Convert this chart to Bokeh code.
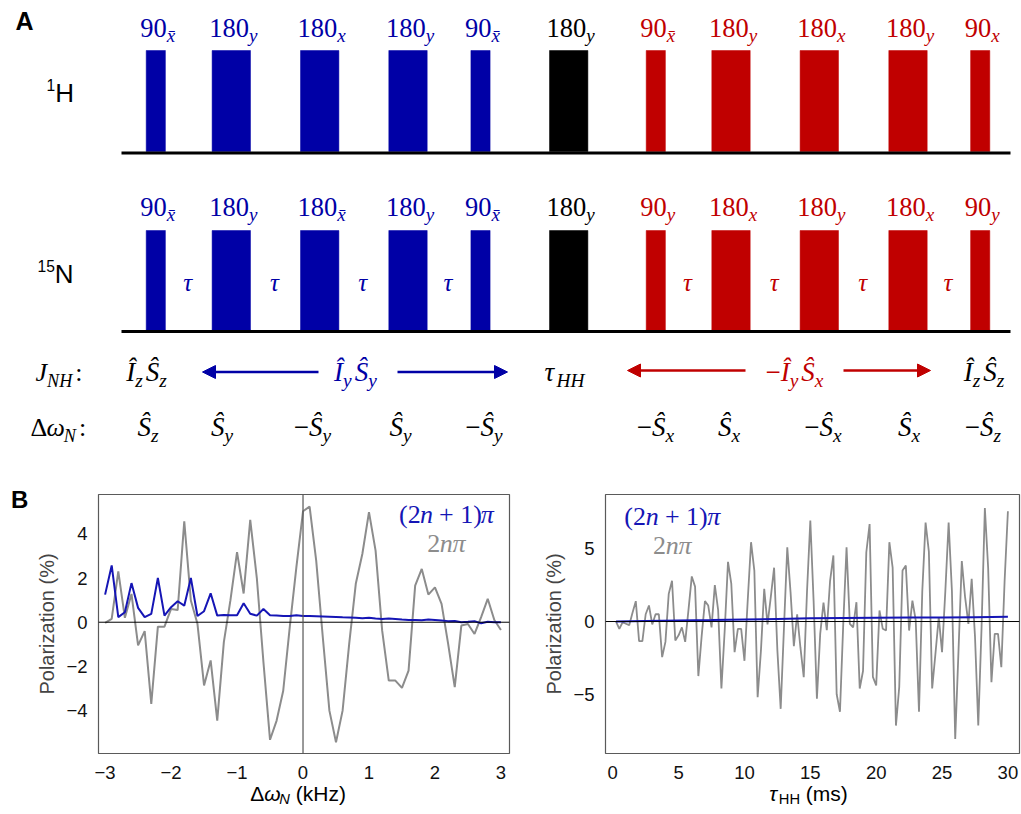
from bokeh.plotting import figure
from bokeh.models import ColumnDataSource, Range1d, Label, Arrow, NormalHead, Span, FixedTicker, Div
from bokeh.layouts import column, row
from bokeh.embed import file_html
from bokeh.resources import INLINE

# ---------------- data: panel A (pulse sequence) ----------------
pulse_center = [155.3, 230.8, 319.2, 407.5, 480.0, 568.2, 655.3, 730.5, 818.8, 907.5, 979.7]
pulse_angle = [90, 180, 180, 180, 90, 180, 90, 180, 180, 180, 90]
pulse_block = ["b", "b", "b", "b", "b", "k", "r", "r", "r", "r", "r"]
h_phase = ["xbar", "y", "x", "y", "xbar", "y", "xbar", "y", "x", "y", "x"]
n_phase = ["xbar", "y", "xbar", "y", "xbar", "y", "y", "x", "y", "x", "y"]
tau_gaps = [(0, 1, "b"), (1, 2, "b"), (2, 3, "b"), (3, 4, "b"),
            (6, 7, "r"), (7, 8, "r"), (8, 9, "r"), (9, 10, "r")]
jnh_terms = ["IzSz", "IySy", "tauHH", "-IySx", "IzSz"]
jnh_block = ["k", "b", "k", "r", "k"]
dwn_terms = ["Sz", "Sy", "-Sy", "Sy", "-Sy", "-Sx", "Sx", "-Sx", "Sx", "-Sz"]

# ---------------- data: panel B ----------------
dw_khz = [round(-3.0 + 0.1 * i, 1) for i in range(61)]
pol_2n = [-0.03, 0.15, 2.3, 0.2, 1.28, -1.05, -0.4, -3.7, -0.2, -0.2,
          0.6, 0.55, 4.57, 0.98, -0.07, -2.86, -1.73, -4.45, -0.9, 1.0,
          3.17, 1.3, 4.63, 2.0, -1.8, -5.32, -4.45, -3.1, -0.2, 2.5,
          5.02, 5.23, 2.79, -0.68, -4.0, -5.43, -4.0, -0.98, 1.74, 3.1,
          4.98, 3.24, -0.38, -2.64, -2.64, -2.97, -2.19, 1.66, 2.41, 1.25,
          1.58, 0.83, -0.98, -2.94, -0.15, -0.08, -0.53, 0.23, 1.06, 0.1, -0.35]
pol_2n1 = [1.25, 2.57, 0.23, 0.45, 1.77, 0.65, 0.23, 0.38, 2.0, 0.3,
           0.68, 0.95, 0.75, 2.0, 0.28, 0.5, 1.31, 0.3, 0.33, 0.32,
           0.32, 0.86, 0.38, 0.3, 0.6, 0.32, 0.3, 0.28, 0.28, 0.32,
           0.28, 0.28, 0.27, 0.26, 0.25, 0.24, 0.22, 0.21, 0.2, 0.18,
           0.2, 0.17, 0.15, 0.17, 0.15, 0.12, 0.1, 0.1, 0.09, 0.12,
           0.1, 0.08, 0.05, 0.06, 0.0, 0.02, 0.05, -0.05, 0.02, 0.0, 0.0]

tau_ms = [0.25 * k for k in range(1, 121)]
tau_2n = [0.0, -0.5, -0.05, -0.15, -0.25, 0.6, 1.4, -1.35, -1.35, 0.5,
          1.1, -0.2, 0.5, 0.5, -2.45, -1.4, 1.9, 2.8, -1.3, -0.95,
          -0.4, -1.4, 0.8, 3.1, 2.4, -3.75, -1.0, 1.4, 1.1, -0.4,
          2.5, 0.8, -4.6, -0.6, 4.1, 2.6, -2.1, -0.5, -0.5, -2.7,
          1.5, 5.45, 3.5, -5.2, -2.0, 2.25, -0.2, 1.7, 3.7, -2.0,
          -6.0, -0.4, 5.1, 2.0, -1.7, 0.5, -1.8, -3.83, 2.1, 6.94,
          1.4, -5.3, -0.85, 1.3, -0.6, 2.8, 4.54, -5.0, -6.2, -0.16,
          5.1, -0.16, -0.4, 1.33, -4.6, -3.4, 4.76, 6.7, -3.8, -4.4,
          0.76, -0.5, -0.62, 5.45, 3.7, -7.15, -4.5, 3.5, 3.85, -0.62,
          1.44, 0.1, -6.2, 2.1, 6.8, 4.8, -4.6, -2.2, 0.3, -2.1,
          2.1, 6.8, 2.1, -8.07, -2.0, 4.15, 1.67, -0.16, 2.93, -1.0,
          -7.15, -0.4, 7.8, 3.7, -4.17, -0.85, -0.85, -3.14, 2.8, 7.58]
tau_blue_t = [0.25, 2.5, 5, 7.5, 10, 12.5, 15, 17.5, 20, 22.5, 25, 27.5, 30]
tau_2n1 = [0.0, 0.04, 0.07, 0.1, 0.14, 0.18, 0.22, 0.24, 0.26, 0.27, 0.28, 0.3, 0.32]

left_xticks = [-3, -2, -1, 0, 1, 2, 3]
left_yticks = [-4, -2, 0, 2, 4]
right_xticks = [0, 5, 10, 15, 20, 25, 30]
right_yticks = [-5, 0, 5]

# ---------------- styles ----------------
COL = {"b": "#0000A6", "r": "#C00000", "k": "#000000"}
LINE_BLUE = "#1515B5"
LINE_GRAY = "#8C8C8C"
SERIF = "Liberation Serif"
SANS = "Liberation Sans"
BASELINE_FIX = 0.3   # bokeh draws 'alphabetic' text slightly low; lift by this fraction of the size

EM = {
    SERIF: {"0": .5, "1": .5, "2": .5, "3": .5, "4": .5, "5": .5, "6": .5, "7": .5, "8": .5, "9": .5,
            "(": .333, ")": .333, "+": .564, " ": .25, "\u2212": .564, ":": .278, "\u0394": .612,
            "x": .444, "y": .444, "z": .389, "n": .5, "\u03c0": .5, "N": .667, "H": .722, "J": .444,
            "\u00ce": .333, "\u015c": .5, "\u03c4": .44, "\u03c9": .67, "\u0304": 0.0},
    SANS: {"\u0394": .668, "\u03c9": .72, "N": .722, "H": .722, " ": .278, "(": .333, ")": .333,
           "k": .5, "z": .5, "m": .833, "s": .5, "\u03c4": .46, "1": .556, "5": .556,
           "A": .722, "B": .722},
}


def seg_w(t, size, font):
    return sum(EM[font].get(ch, 0.55) for ch in t) * size


def compose(segs, x, y, size, color, font, align="center", gap=0.0, sub_scale=0.7, sub_drop=0.22, sup_rise=0.42):
    """segs: (text, kind); kind r/i main, sr/si subscript, up superscript, b bold.
    gap is added after every subscript segment. y is the wanted baseline."""
    out = []
    sizes = [size * sub_scale if k in ("sr", "si", "up") else size for _, k in segs]
    widths = [seg_w(t, s, font) for (t, _), s in zip(segs, sizes)]
    gaps = [gap if k in ("sr", "si") and j < len(segs) - 1 else 0.0 for j, (_, k) in enumerate(segs)]
    total = sum(widths) + sum(gaps)
    x0 = {"left": x, "center": x - total / 2, "right": x - total}[align]
    for (t, k), s, w, g in zip(segs, sizes, widths, gaps):
        dy = sub_drop * size if k in ("sr", "si") else (-sup_rise * size if k == "up" else 0.0)
        style = "italic" if k in ("i", "si") else ("bold" if k == "b" else "normal")
        lead = len(t) - len(t.lstrip(" "))
        out.append((x0 + seg_w(" " * lead, s, font), y + dy - BASELINE_FIX * s, t.strip(" "),
                    "%.1fpx" % s, style, color, font))
        x0 += w + g
    return out


def phase_segs(ph):
    return [("x\u0304", "si")] if ph == "xbar" else [(ph, "si")]


def op_segs(term):
    if term == "tauHH":
        return [("\u03c4", "i"), ("HH", "si")]
    segs = []
    i = 0
    while i < len(term):
        ch = term[i]
        if ch == "-":
            segs.append(("\u2212", "r")); i += 1
        elif ch in "IS":
            segs.append(("\u00ce" if ch == "I" else "\u015c", "i"))
            segs.append((term[i + 1], "si")); i += 2
        else:
            i += 1
    return segs


def text_source(items):
    return ColumnDataSource(dict(x=[i[0] for i in items], y=[i[1] for i in items], text=[i[2] for i in items],
                                 size=[i[3] for i in items], style=[i[4] for i in items],
                                 color=[i[5] for i in items], font=[i[6] for i in items]))


def blank_fig(w, h, x0, y0):
    p = figure(width=w, height=h, x_range=Range1d(x0, x0 + w), y_range=Range1d(y0 + h, y0),
               output_backend="svg", toolbar_location=None, x_axis_type=None, y_axis_type=None,
               min_border=0, outline_line_color=None)
    p.grid.visible = False
    return p


def draw_text(p, items):
    p.text(x="x", y="y", text="text", text_font_size="size", text_font_style="style", text_color="color",
           text_font="font", text_baseline="alphabetic", text_align="left", source=text_source(items))


# ---------------- panel A ----------------
items = []
items += compose([("A", "b")], 15, 28, 25, "#000000", SANS, align="left")
items += compose([("1", "up"), ("H", "r")], 46, 100, 26, "#000000", SANS, align="left", sub_scale=0.6)
items += compose([("15", "up"), ("N", "r")], 37, 281, 26, "#000000", SANS, align="left", sub_scale=0.6)

H_TOP, H_BASE, H_LAB = 50, 152.5, 35
N_TOP, N_BASE, N_LAB = 230, 331, 214
WIDTH_PER_DEG = 0.2133

lefts, rights, tops, bottoms, colors = [], [], [], [], []
for c, a, blk in zip(pulse_center, pulse_angle, pulse_block):
    w = a * WIDTH_PER_DEG
    for top, base in ((H_TOP, H_BASE), (N_TOP, N_BASE)):
        lefts.append(c - w / 2); rights.append(c + w / 2)
        tops.append(top); bottoms.append(base - 1.5); colors.append(COL[blk])

for c, a, blk, hp, nph in zip(pulse_center, pulse_angle, pulse_block, h_phase, n_phase):
    items += compose([(str(a), "r")] + phase_segs(hp), c + 2, H_LAB, 26.5, COL[blk], SERIF, sub_scale=0.72)
    items += compose([(str(a), "r")] + phase_segs(nph), c + 2, N_LAB, 26.5, COL[blk], SERIF, sub_scale=0.72)

for i0, i1, blk in tau_gaps:
    e0 = pulse_center[i0] + pulse_angle[i0] * WIDTH_PER_DEG / 2
    e1 = pulse_center[i1] - pulse_angle[i1] * WIDTH_PER_DEG / 2
    items += compose([("\u03c4", "i")], (e0 + e1) / 2, 289, 25, COL[blk], SERIF)

items += compose([("J", "i"), ("NH", "si"), (":", "r")], 35, 380, 26, "#000000", SERIF, align="left", gap=3)
jnh_x = [146, 355, 564, 794, 983.5]
for t, blk, x in zip(jnh_terms, jnh_block, jnh_x):
    items += compose(op_segs(t), x, 380, 27, COL[blk], SERIF, gap=3, sub_scale=0.72)

items += compose([("\u0394", "r"), ("\u03c9", "i"), ("N", "si"), (":", "r")], 30, 435, 26, "#000000", SERIF, align="left", gap=3)
dwn_x = [147.5, 221.5, 312, 400, 483.5, 655, 728.5, 822.5, 908.5, 982.5]
for t, x in zip(dwn_terms, dwn_x):
    items += compose(op_segs(t), x, 435, 27, "#000000", SERIF, gap=3, sub_scale=0.72)

pa = blank_fig(1021, 478, 0, 0)
pa.quad(left=lefts, right=rights, top=tops, bottom=bottoms, fill_color=colors, line_color=colors, line_width=0.5)
pa.segment(x0=[121, 121], x1=[1010, 1010], y0=[H_BASE, N_BASE], y1=[H_BASE, N_BASE], line_color="black", line_width=3)
draw_text(pa, items)
for xs, xe, y, blk in ((318, 202, 371.5, "b"), (397, 507, 371.5, "b"), (745, 627, 370, "r"), (843, 930, 370, "r")):
    c = COL[blk]
    pa.add_layout(Arrow(end=NormalHead(size=13, fill_color=c, line_color=c), x_start=xs, y_start=y,
                        x_end=xe, y_end=y, line_color=c, line_width=2.5))

# ---------------- panel B ----------------
ROW_TOP, ROW_H = 478, 304
FRAME_TOP, FRAME_BOT = 494, 753
B_W = 33


def make_plot(width, mb_left, mb_right, xr, yr, xt, yt):
    p = figure(width=width, height=ROW_H, x_range=Range1d(*xr), y_range=Range1d(*yr),
               output_backend="svg", toolbar_location=None,
               min_border_left=mb_left, min_border_right=mb_right,
               min_border_top=FRAME_TOP - ROW_TOP, min_border_bottom=ROW_TOP + ROW_H - FRAME_BOT)
    p.grid.visible = False
    p.outline_line_color = "#5a5a5a"
    p.outline_line_width = 1.2
    p.xaxis.ticker = FixedTicker(ticks=xt)
    p.yaxis.ticker = FixedTicker(ticks=yt)
    p.xaxis.major_label_overrides = {t: str(t).replace("-", "\u2212") for t in xt}
    p.yaxis.major_label_overrides = {t: str(t).replace("-", "\u2212") for t in yt}
    for ax in (p.xaxis[0], p.yaxis[0]):
        ax.axis_line_color = None
        ax.major_tick_line_color = None
        ax.minor_tick_line_color = None
        ax.major_label_text_font = SANS
        ax.major_label_text_font_size = "18.5px"
        ax.major_label_text_color = "#111111"
    p.xaxis.major_label_standoff = 6
    p.yaxis.major_label_standoff = 5
    p.yaxis.axis_label = "Polarization (%)"
    p.yaxis.axis_label_text_font = SANS
    p.yaxis.axis_label_text_font_size = "20px"
    p.yaxis.axis_label_text_font_style = "normal"
    p.yaxis.axis_label_standoff = 5
    p.add_layout(Span(location=0, dimension="width", line_color="black", line_width=1))
    return p


def add_labels(p, segs, fx0, fx1):
    xr0, xr1 = p.x_range.start, p.x_range.end
    yr0, yr1 = p.y_range.start, p.y_range.end
    for (x, y, t, s, st, c, f) in segs:
        dx = xr0 + (x - fx0) / (fx1 - fx0) * (xr1 - xr0)
        dy = yr1 - (y - FRAME_TOP) / (FRAME_BOT - FRAME_TOP) * (yr1 - yr0)
        p.add_layout(Label(x=dx, y=dy, text=t, text_font_size=s, text_font_style=st, text_color=c,
                           text_font=f, text_baseline="alphabetic", text_align="left"))


# "B" panel letter
pb = Div(text="B", width=B_W, height=ROW_H, margin=(0, 0, 0, 0),
         styles={"font-family": SANS, "font-weight": "bold", "font-size": "24px", "line-height": "24px",
                 "color": "#000000", "padding": "10px 0px 0px 11px", "box-sizing": "border-box"})

# left plot: frame page px 87..509
pl = make_plot(87 - B_W + 422 + 31, 87 - B_W, 31, (-3.10, 3.13), (-5.94, 5.78), left_xticks, left_yticks)
pl.add_layout(Span(location=0, dimension="height", line_color="#555555", line_width=1.2))
pl.line(dw_khz, pol_2n, line_color=LINE_GRAY, line_width=2)
pl.line(dw_khz, pol_2n1, line_color=LINE_BLUE, line_width=2)
segs = compose([("(2", "r"), ("n", "i"), (" + 1)", "r"), ("\u03c0", "i")], 444, 522, 26, LINE_BLUE, SERIF)
segs += compose([("2", "r"), ("n", "i"), ("\u03c0", "i")], 444, 551, 26, "#8C8C8C", SERIF)
add_labels(pl, segs, 87, 509)

# right plot: frame page px 600..1019
pr = make_plot(481, 60, 2, (-0.55, 30.88), (-9.07, 8.73), right_xticks, right_yticks)
pr.line(tau_ms, tau_2n, line_color=LINE_GRAY, line_width=1.8)
pr.line(tau_blue_t, tau_2n1, line_color=LINE_BLUE, line_width=2)
segs = compose([("(2", "r"), ("n", "i"), (" + 1)", "r"), ("\u03c0", "i")], 667.5, 524, 26, LINE_BLUE, SERIF)
segs += compose([("2", "r"), ("n", "i"), ("\u03c0", "i")], 667.5, 553, 26, "#8C8C8C", SERIF)
add_labels(pr, segs, 600, 1019)

# bottom strip with x-axis titles
pbot = blank_fig(1021, 814 - ROW_TOP - ROW_H, 0, ROW_TOP + ROW_H)
t_items = compose([("\u0394", "r"), ("\u03c9", "i"), ("N", "si"), (" (kHz)", "r")], 297.5, 799, 21, "#000000", SANS, sub_drop=0.18)
t_items += compose([("\u03c4", "i"), ("HH", "sr"), (" (ms)", "r")], 808, 799, 21, "#000000", SANS, sub_drop=0.18)
draw_text(pbot, t_items)

layout = column(pa, row(pb, pl, pr), pbot)
open("out.html", "w").write(file_html(layout, INLINE))
